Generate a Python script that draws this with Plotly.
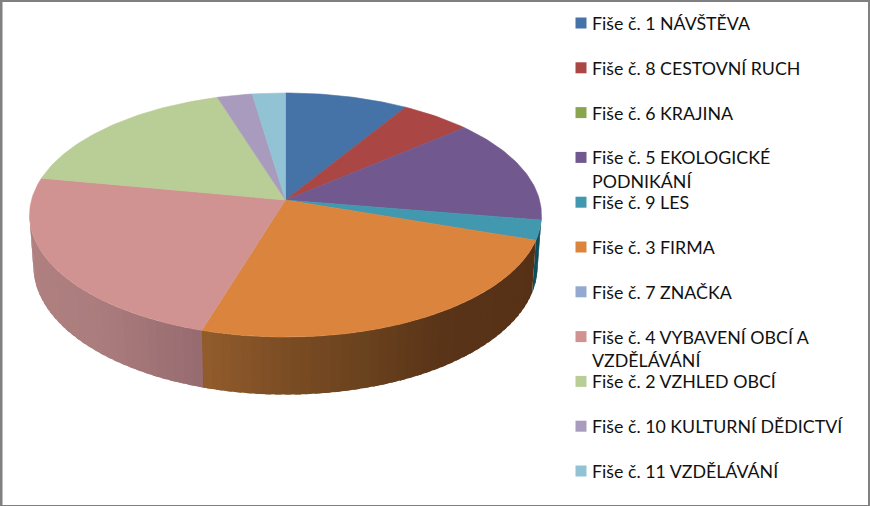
import numpy as np
import plotly.graph_objects as go

# Data (share of the pie, %)
categories = ["Fiše č. 1 NÁVŠTĚVA", "Fiše č. 8 CESTOVNÍ RUCH", "Fiše č. 6 KRAJINA",
              "Fiše č. 5 EKOLOGICKÉ|PODNIKÁNÍ", "Fiše č. 9 LES", "Fiše č. 3 FIRMA",
              "Fiše č. 7 ZNAČKA", "Fiše č. 4 VYBAVENÍ OBCÍ A|VZDĚLÁVÁNÍ",
              "Fiše č. 2 VZHLED OBCÍ", "Fiše č. 10 KULTURNÍ DĚDICTVÍ", "Fiše č. 11 VZDĚLÁVÁNÍ"]
values = [8.75, 5.0, 0, 13.9, 2.6, 24.5, 0, 23.3, 17.2, 2.5, 2.35]
colors = ["#4572A7", "#AA4643", "#89A54E", "#71588F", "#4198AF", "#DB843D",
          "#93A9CF", "#D19392", "#B9CD96", "#A99BBD", "#91C3D5"]

W, H = 870, 506
CX, CY, A, B, K = 285.5, 200.0, 254.0, 120.2, 0.123
DEPTH, SHRINK = 0.42, 0.985
N = len(categories)


def top(theta):
    X, Y = np.sin(theta), np.cos(theta)
    s = 1 / (1 + K * Y)
    return X * s, Y * s


def bottom(theta):
    X, Y = np.sin(theta), np.cos(theta)
    s = 1 / (1 + K * Y)
    return X * s * SHRINK, Y * s - DEPTH * s


def mix(stops, px):
    xs = [p[0] for p in stops]
    rgb = [np.interp(px, xs, [p[1][i] for p in stops]) for i in range(3)]
    return "rgb(%d,%d,%d)" % tuple(int(round(v)) for v in rgb)


wall_stops = {
    3: [(520, (58, 42, 80)), (545, (58, 42, 80))],
    4: [(520, (15, 77, 92)), (545, (15, 77, 92))],
    5: [(202, (146, 92, 44)), (280, (124, 77, 36)), (360, (106, 66, 30)), (440, (90, 52, 24)), (540, (86, 49, 22))],
    7: [(30, (176, 128, 128)), (100, (170, 124, 125)), (160, (158, 113, 116)), (202, (150, 107, 112))],
}

fracs = np.array(values) / sum(values) * 2 * np.pi
ends = np.cumsum(fracs)
starts = ends - fracs
VIS0, VIS1 = np.radians(96.5), np.radians(263.5)

fig = go.Figure()

# One plain wall under the shaded strips, so no white shows where two slices meet
t = np.linspace(ends[5] - np.radians(1), ends[5] + np.radians(1), 5)
tx, ty = top(t)
bx, by = bottom(t)
fig.add_trace(go.Scatter(x=np.r_[tx, bx[::-1], tx[0]], y=np.r_[ty, by[::-1], ty[0]], mode="lines",
                         fill="toself", fillcolor="rgb(148,98,76)", line=dict(width=0),
                         hoverinfo="skip", showlegend=False))

# Side wall of the pie, in thin shaded strips; each strip runs under the next one
for i in range(N):
    if values[i] <= 0 or i not in wall_stops:
        continue
    a0, a1 = max(starts[i], VIS0), min(ends[i], VIS1)
    if a1 <= a0:
        continue
    n = max(1, int(np.degrees(a1 - a0) / 2))
    step = (a1 - a0) / n
    for s in range(n):
        e0 = a0 + s * step
        e1 = min(a0 + (s + 1.6) * step, a1)
        t = np.linspace(e0, e1, 5)
        tx, ty = top(t)
        bx, by = bottom(t)
        xs = np.r_[tx, bx[::-1], tx[0]]
        ys = np.r_[ty, by[::-1], ty[0]]
        col = mix(wall_stops[i], CX + A * tx.mean())
        fig.add_trace(go.Scatter(x=xs, y=ys, mode="lines", fill="toself", fillcolor=col,
                                 line=dict(width=0), hoverinfo="skip", showlegend=False))

# Top face slices
for i in range(N):
    if values[i] <= 0:
        continue
    t = np.linspace(starts[i], ends[i], max(8, int(np.degrees(fracs[i]))))
    px, py = top(t)
    xs = np.r_[0, px, 0]
    ys = np.r_[0, py, 0]
    fig.add_trace(go.Scatter(x=xs, y=ys, mode="lines", fill="toself", fillcolor=colors[i],
                             line=dict(color=colors[i], width=0.6),
                             name=categories[i].replace("|", " "), text=f"{values[i]}%",
                             hoverinfo="name+text", showlegend=False))

# Legend markers on their own axis pair
rows = list(range(N))
fig.add_trace(go.Scatter(x=[0.5] * N, y=rows, xaxis="x2", yaxis="y2", mode="markers",
                         marker=dict(symbol="square", size=11, color=colors, line=dict(width=0)),
                         hoverinfo="skip", showlegend=False))

annotations = []
FONT = dict(family="Lato, 'Noto Sans', sans-serif", size=17.8, color="#111111")
for r, label in zip(rows, categories):
    for j, part in enumerate(label.split("|")):
        annotations.append(dict(x=0.5, y=r + 0.53 * j, xref="x2", yref="y2", text=part,
                                xanchor="left", yanchor="middle", xshift=9, yshift=0,
                                showarrow=False, font=FONT, align="left"))

# Outer gray frame
frame = [(0, 0, 870, 2), (0, 0, 2.5, 506), (0, 505, 870, 506), (868, 0, 870, 506)]
shapes = [dict(type="rect", xref="paper", yref="paper", x0=a / W, x1=c / W, y0=1 - b / H, y1=1 - d / H,
               fillcolor="#808080", line=dict(width=0), layer="above") for a, b, c, d in frame]

hidden = dict(visible=False, showgrid=False, zeroline=False, fixedrange=True)
fig.update_layout(
    width=W, height=H, margin=dict(l=0, r=0, t=0, b=0, pad=0),
    paper_bgcolor="white", plot_bgcolor="white", showlegend=False,
    xaxis=dict(range=[-CX / A, (W - CX) / A], domain=[0, 1], **hidden),
    yaxis=dict(range=[(CY - H) / B, CY / B], domain=[0, 1], **hidden),
    xaxis2=dict(range=[-581 / 100 + 0.5, (W - 581) / 100 + 0.5], overlaying="x", anchor="y2", **hidden),
    yaxis2=dict(range=[(H - 23) / 44.8, -23 / 44.8], overlaying="y", anchor="x2", **hidden),
    annotations=annotations, shapes=shapes,
)

fig.write_html("out.html", config=dict(displayModeBar=False),
               post_script="document.body.style.margin='0';document.body.style.overflow='hidden';")
